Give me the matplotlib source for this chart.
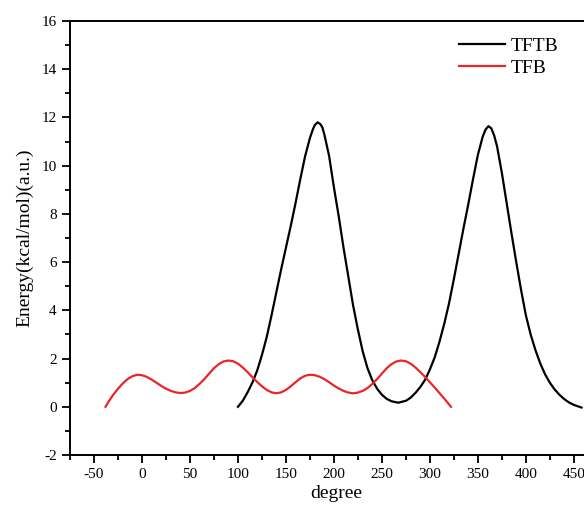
import matplotlib
matplotlib.use("Agg")
import matplotlib.pyplot as plt
from matplotlib.ticker import MultipleLocator

plt.rcParams['font.family'] = ['Liberation Serif', 'DejaVu Serif']
plt.rcParams['axes.unicode_minus'] = False

tftb_x = [100, 105, 110, 115, 120, 125, 130, 135, 140, 145, 150, 155, 160, 165, 170, 175, 178, 180, 183,
          186, 188, 190, 195, 200, 205, 210, 215, 220, 225, 230, 235, 240, 245, 250, 255, 260, 267,
          275, 280, 285, 290, 295, 300, 305, 310, 315, 320, 325, 330, 335, 340, 345, 350, 355,
          358, 361, 364, 367, 370, 375, 380, 385, 390, 395, 400, 405, 410, 415, 420, 425, 430, 435, 440,
          445, 450, 455, 458]
tftb_y = [0.0, 0.25, 0.6, 1.0, 1.5, 2.15, 2.9, 3.8, 4.75, 5.7, 6.6, 7.5, 8.45, 9.45, 10.4, 11.15, 11.5, 11.68, 11.8,
          11.72, 11.58, 11.3, 10.4, 9.1, 7.9, 6.6, 5.4, 4.2, 3.2, 2.3, 1.6, 1.1, 0.75, 0.5, 0.33, 0.23, 0.17,
          0.25, 0.38, 0.58, 0.82, 1.12, 1.55, 2.05, 2.7, 3.45, 4.3, 5.3, 6.35, 7.4, 8.4, 9.45, 10.45, 11.2,
          11.5, 11.64, 11.55, 11.25, 10.8, 9.7, 8.45, 7.2, 6.0, 4.85, 3.8, 3.0, 2.35, 1.8, 1.35, 1.0, 0.72, 0.5, 0.32,
          0.18, 0.08, 0.01, -0.03]

tfb_x = [-38, -35, -30, -25, -20, -15, -10, -5, 0, 5, 10, 15, 20, 25, 30, 35, 40, 45, 50, 55, 60,
         65, 70, 75, 80, 85, 90, 95, 100, 105, 110, 115, 120, 125, 130, 135, 140, 145, 150, 155,
         160, 165, 170, 175, 180, 185, 190, 195, 200, 205, 210, 215, 220, 225, 230, 235, 240, 245,
         250, 255, 260, 265, 270, 275, 280, 285, 290, 295, 300, 305, 310, 315, 322]
tfb_y = [0.0, 0.2, 0.5, 0.75, 0.97, 1.15, 1.27, 1.33, 1.31, 1.24, 1.13, 1.0, 0.87, 0.75, 0.66, 0.6,
         0.57, 0.59, 0.66, 0.78, 0.95, 1.15, 1.38, 1.6, 1.77, 1.88, 1.92, 1.89, 1.79, 1.63, 1.44,
         1.23, 1.03, 0.85, 0.7, 0.6, 0.56, 0.6, 0.7, 0.85, 1.02, 1.18, 1.29, 1.33, 1.31, 1.25, 1.15,
         1.02, 0.88, 0.76, 0.66, 0.59, 0.56, 0.59, 0.66, 0.78, 0.95, 1.15, 1.38, 1.6, 1.77, 1.88,
         1.92, 1.89, 1.79, 1.63, 1.44, 1.24, 1.02, 0.8, 0.57, 0.34, 0.0]

fig = plt.figure(figsize=(5.84, 5.13), dpi=100)
ax = fig.add_axes([0.1199, 0.113, 0.912, 0.846])

ax.plot(tftb_x, tftb_y, color='black', lw=1.6, label='TFTB', solid_joinstyle='round')
ax.plot(tfb_x, tfb_y, color='#e8262a', lw=1.6, label='TFB', solid_joinstyle='round')

ax.set_xlim(-75, 480)
ax.set_ylim(-2, 16)
ax.xaxis.set_major_locator(MultipleLocator(50))
ax.xaxis.set_minor_locator(MultipleLocator(25))
ax.yaxis.set_major_locator(MultipleLocator(2))
ax.yaxis.set_minor_locator(MultipleLocator(1))
ax.tick_params(which='major', direction='out', length=6, width=1.3, labelsize=11,
               top=False, right=False)
ax.tick_params(which='minor', direction='out', length=3.5, width=1.3, top=False, right=False)
for s in ax.spines.values():
    s.set_linewidth(1.4)

ax.set_xlabel('degree', fontsize=14, labelpad=3)
ax.set_ylabel('Energy(kcal/mol)(a.u.)', fontsize=14, labelpad=6)

ax.legend(loc='upper left', bbox_to_anchor=(0.715, 0.98), frameon=False, fontsize=14,
          handlelength=2.4, handletextpad=0.3, labelspacing=0.2, borderaxespad=0)

fig.savefig('out.png', dpi=100)
